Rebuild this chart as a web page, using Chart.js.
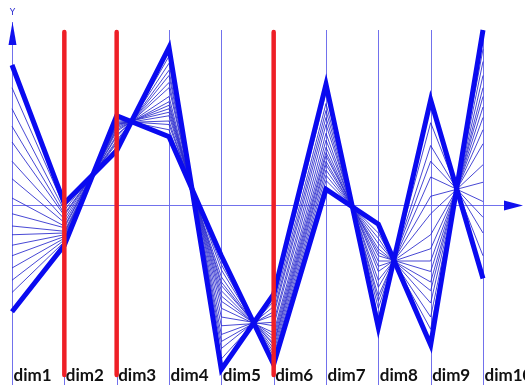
<!DOCTYPE html>
<html><head><meta charset="utf-8">
<script src="https://cdn.jsdelivr.net/npm/chart.js@4"></script>
<style>html,body{margin:0;padding:0;background:#fff;overflow:hidden}</style>
</head><body>
<canvas id="c" width="525" height="385"></canvas>
<script>
// Dimension names (categories)
const dims = ['dim1','dim2','dim3','dim4','dim5','dim6','dim7','dim8','dim9','dim10'];
// Dimensions drawn as red axes
const redDims = ['dim2','dim3','dim6'];
// Two thick boundary polylines
const edgeA = [8.0, 0.1, 3.1, 9.0, -9.4, -5.1, 6.9, -7.0, 6.0, -4.2];
const edgeB = [-6.1, -2.3, 5.1, 3.9, -2.9, -9.1, 0.9, -1.1, -8.0, 10.0];
// Thin polylines between them
const thin1  = [6.7, -0.1, 3.3, 8.5, -8.8, -5.5, 6.4, -6.5, 4.7, -2.9];
const thin2  = [5.5, -0.3, 3.5, 8.1, -8.2, -5.8, 5.8, -5.9, 3.4, -1.6];
const thin3  = [4.5, -0.5, 3.6, 7.7, -7.8, -6.1, 5.4, -5.5, 2.5, -0.7];
const thin4  = [3.6, -0.6, 3.7, 7.4, -7.4, -6.3, 5.0, -5.2, 1.6, 0.2];
const thin5  = [2.5, -0.8, 3.9, 7.0, -6.9, -6.7, 4.6, -4.7, 0.5, 1.3];
const thin6  = [1.5, -1.0, 4.0, 6.7, -6.4, -6.9, 4.1, -4.3, -0.5, 2.3];
const thin7  = [0.4, -1.2, 4.2, 6.2, -5.9, -7.3, 3.7, -3.8, -1.7, 3.5];
const thin8  = [-0.5, -1.3, 4.3, 5.9, -5.5, -7.5, 3.3, -3.5, -2.5, 4.3];
const thin9  = [-1.2, -1.5, 4.4, 5.7, -5.2, -7.7, 3.0, -3.2, -3.2, 5.0];
const thin10 = [-1.7, -1.6, 4.5, 5.5, -4.9, -7.9, 2.8, -2.9, -3.8, 5.6];
const thin11 = [-2.3, -1.7, 4.6, 5.3, -4.6, -8.0, 2.5, -2.7, -4.4, 6.2];
const thin12 = [-2.9, -1.8, 4.6, 5.1, -4.4, -8.2, 2.3, -2.5, -4.9, 6.7];
const thin13 = [-3.6, -1.9, 4.7, 4.8, -4.1, -8.4, 2.0, -2.2, -5.6, 7.4];
const thin14 = [-4.3, -2.0, 4.8, 4.6, -3.7, -8.6, 1.7, -1.9, -6.4, 8.2];
const thin15 = [-5.0, -2.1, 4.9, 4.3, -3.4, -8.8, 1.4, -1.6, -7.1, 8.9];

const thinList = [thin1,thin2,thin3,thin4,thin5,thin6,thin7,thin8,thin9,thin10,thin11,thin12,thin13,thin14,thin15];

const datasets = [];
[edgeA, edgeB].forEach(d => datasets.push({
  data: d, borderColor: '#0a0af0', borderWidth: 5, pointRadius: 0,
  tension: 0, borderJoinStyle: 'miter', clip: false, order: 0
}));
thinList.forEach(d => datasets.push({
  data: d, borderColor: 'rgba(40,40,205,0.85)', borderWidth: 1, pointRadius: 0,
  tension: 0, clip: false, order: 1
}));

const decor = {
  id: 'decor',
  beforeDatasetsDraw(chart) {
    const c = chart.ctx, xs = chart.scales.x, ys = chart.scales.y, a = chart.chartArea;
    c.save();
    c.strokeStyle = 'rgba(105,105,235,0.95)';
    c.lineWidth = 1;
    dims.forEach((d, i) => {
      const x = Math.round(xs.getPixelForValue(i)) + 0.5;
      c.beginPath(); c.moveTo(x, a.top); c.lineTo(x, 385); c.stroke();
    });
    // horizontal axis
    const y0 = Math.round(ys.getPixelForValue(0)) + 0.5;
    const xl = xs.getPixelForValue(0);
    c.beginPath(); c.moveTo(xl, y0); c.lineTo(506, y0); c.stroke();
    c.fillStyle = '#1010ee';
    c.beginPath(); c.moveTo(504, y0 - 5); c.lineTo(523, y0); c.lineTo(504, y0 + 5); c.closePath(); c.fill();
    // vertical axis arrow
    const xa = Math.round(xl) + 0.5;
    c.beginPath(); c.moveTo(xa, 22); c.lineTo(xa, a.top); c.stroke();
    c.beginPath(); c.moveTo(xa - 4, 45); c.lineTo(xa, 22); c.lineTo(xa + 4, 45); c.closePath(); c.fill();
    c.font = '9px "DejaVu Sans"';
    c.textAlign = 'center'; c.textBaseline = 'middle';
    c.fillStyle = '#2a2ad0';
    c.fillText('Y', xa, 13);
    c.restore();
  },
  afterDatasetsDraw(chart) {
    const c = chart.ctx, xs = chart.scales.x;
    c.save();
    c.strokeStyle = '#ee1f26';
    c.lineWidth = 4.5;
    c.lineCap = 'round';
    redDims.forEach(d => {
      const x = xs.getPixelForValue(dims.indexOf(d));
      c.beginPath(); c.moveTo(x, 32); c.lineTo(x, 375); c.stroke();
    });
    c.font = 'bold 17px Lato';
    c.fillStyle = '#111111';
    c.textAlign = 'left'; c.textBaseline = 'middle';
    dims.forEach((d, i) => {
      const x = xs.getPixelForValue(i);
      c.fillText(d, x + 1.5, 376);
    });
    c.restore();
  }
};

new Chart(document.getElementById('c').getContext('2d'), {
  type: 'line',
  data: { labels: dims, datasets },
  options: {
    responsive: false, animation: false,
    layout: { padding: { left: 12, right: 42, top: 30, bottom: 5 } },
    plugins: { legend: { display: false }, tooltip: { enabled: false } },
    scales: {
      x: { display: false },
      y: { display: false, min: -10, max: 10 }
    }
  },
  plugins: [decor]
});
</script>
</body></html>
